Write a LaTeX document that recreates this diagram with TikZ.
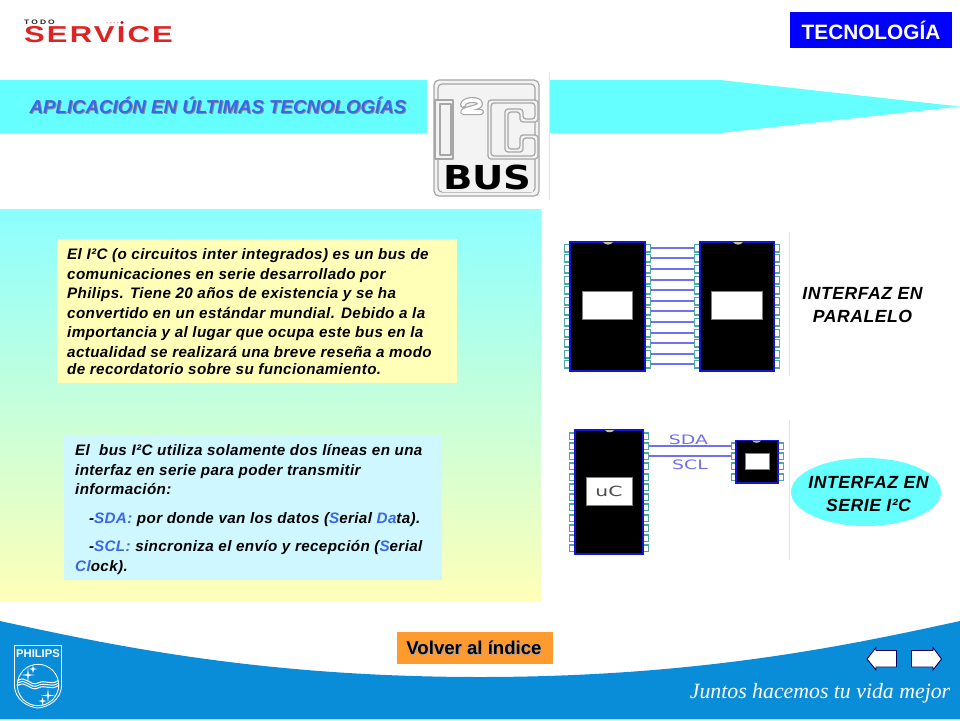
\documentclass[tikz,border=0pt]{standalone}
\usepackage{fontspec}
\setmainfont{Liberation Sans}
\newfontfamily\spacedsans[LetterSpace=2.5]{Liberation Sans}
\newfontfamily\labelsans[LetterSpace=3]{Liberation Sans}
\newfontfamily\servicesans[LetterSpace=7]{Liberation Sans}
\newfontfamily\todosans[LetterSpace=25]{Liberation Sans}
\newfontfamily\serifit{Liberation Serif}
\newfontfamily\widesans{DejaVu Sans}
\usetikzlibrary{shapes.geometric}
\definecolor{cyanband}{HTML}{66FFFF}
\definecolor{philblue}{HTML}{0A8DD8}
\definecolor{hiblue}{HTML}{3A66E8}
\definecolor{pinteal}{HTML}{4FA8A0}
\definecolor{wire}{HTML}{7070F0}
\definecolor{chipedge}{HTML}{1414D0}
\definecolor{logoline}{HTML}{A6A6A6}
\definecolor{logofill}{HTML}{F3F3F3}
\definecolor{svcred}{HTML}{DC2424}
\definecolor{paleyellow}{HTML}{FFFFB8}
\definecolor{paleblue}{HTML}{CFF7FF}
\definecolor{btnorange}{HTML}{FF9A2E}
\tikzset{
  body/.style={font=\spacedsans\bfseries\itshape\fontsize{15.2}{19.5}\selectfont,align=left,anchor=north west,inner sep=0pt,text=black},
  label/.style={font=\labelsans\bfseries\itshape\fontsize{17.6}{22.5}\selectfont,align=center,text=black,inner sep=0pt},
  chipbody/.style={fill=black,draw=chipedge,line width=1.2pt},
  chipwin/.style={fill=white,draw=gray,line width=.8pt},
  pinbox/.style={draw=pinteal,fill=white,line width=1.8pt},
  wireline/.style={draw=wire,line width=2pt},
  sep/.style={draw=black!10,line width=.6pt},
  navarrow/.style={fill=white,draw=black!40!blue!60!black,line width=.9pt,line join=miter},
  logoedge/.style={draw=logoline,line width=1.2pt,line join=round},
  siglabel/.style={font=\widesans\fontsize{13}{13}\selectfont,text=wire,inner sep=0pt,xscale=1.45},
  shield/.style={draw=white,line width=.9pt}
}
\newcommand{\hl}[1]{\textcolor{hiblue}{#1}}
\begin{document}
\begin{tikzpicture}[x=1pt,y=-1pt]
\useasboundingbox (0,0) rectangle (960,720);
\fill[white] (0,0) rectangle (960,720);

% Header logo
\node[inner sep=0pt,font=\todosans\bfseries\fontsize{6.5}{7}\selectfont,text=black!85,xscale=1.3] (todo) at (39.5,22) {TODO};
\node[inner sep=0pt,font=\servicesans\bfseries\fontsize{23}{24}\selectfont,text=svcred,xscale=1.35] (service) at (98.5,35) {SERVICE};
\foreach \x in {107,110.5,114,117.5} \fill[red!35] (\x,22.5) circle (.9);
\fill[red!80!black] (122,22.5) circle (1.6);

% Tecnologia box
\node[fill=blue,minimum width=162pt,minimum height=36pt,inner sep=0pt,text=white,font=\bfseries\fontsize{20.8}{22}\selectfont] (tec) at (871,30) {TECNOLOGÍA};

% Banners
\fill[cyanband] (0,80) rectangle (427,133);
\fill[cyanband] (550,80) -- (720,80) -- (960,106.5) -- (720,133) -- (550,133) -- cycle;
\node[font=\bfseries\itshape\fontsize{18.7}{20}\selectfont,text=black!45,inner sep=0pt] (titleshadow) at (219,106) {APLICACIÓN EN ÚLTIMAS TECNOLOGÍAS};
\node[font=\bfseries\itshape\fontsize{18.7}{20}\selectfont,text=hiblue,inner sep=0pt] (title) at (218,105) {APLICACIÓN EN ÚLTIMAS TECNOLOGÍAS};

% I2C logo
\draw[sep] (549.5,72) -- (549.5,200);
\draw[logoedge,fill=logofill,rounded corners=5pt] (434,80) rectangle (539,196);
\draw[logoedge,rounded corners=4pt] (438,84) rectangle (535,192);
\draw[logoedge,fill=logofill] (435,100) rectangle (453,159);
\draw[logoedge] (440,104) rectangle (451,155);
\draw[logoline,line width=6pt,line cap=round,line join=round] (463,105) .. controls (463,99) and (480,98) .. (480,104) .. controls (480,108) and (466,108) .. (463,112) -- (481,112);
\draw[white,line width=3.6pt,line cap=round,line join=round] (463,105) .. controls (463,99) and (480,98) .. (480,104) .. controls (480,108) and (466,108) .. (463,112) -- (481,112);
\draw[logoedge,fill=logofill,rounded corners=3pt] (538,100) -- (488,100) -- (488,159) -- (538,159) -- (538,135) -- (520,135) -- (520,149) -- (508,149) -- (508,112) -- (520,112) -- (520,122) -- (538,122) -- cycle;
\draw[logoedge,rounded corners=3pt] (535,103) -- (491,103) -- (491,156) -- (535,156) -- (535,138) -- (523,138) -- (523,152) -- (505,152) -- (505,109) -- (523,109) -- (523,119) -- (535,119) -- cycle;
\fill[logofill] (442,162) rectangle (533,192);
\node[inner sep=0pt,font=\widesans\bfseries\fontsize{33}{33}\selectfont,text=black,xscale=1.17] (bus) at (487.5,177) {BUS};

% Gradient panel
\shade[top color=cyanband!75!white,bottom color=paleyellow] (0,209) rectangle (541,601);
\fill[paleyellow] (57,239) rectangle (457,383);
\fill[paleblue] (64,436) rectangle (442,580);

\node[body] (para1) at (67,248.5) {El I²C (o circuitos inter integrados) es un bus de\\
comunicaciones en serie desarrollado por\\
Philips. Tiene 20 años de existencia y se ha\\
convertido en un estándar mundial. Debido a la\\
importancia y al lugar que ocupa este bus en la\\
actualidad se realizará una breve reseña a modo\\[-2pt]
de recordatorio sobre su funcionamiento.};
\node[body] (para2) at (75,444.5) {El\ \ bus I²C utiliza solamente dos líneas en una\\
interfaz en serie para poder transmitir\\
información:\\[9pt]
\ \ \ -\hl{SDA:} por donde van los datos (\hl{S}erial \hl{Da}ta).\\[9pt]
\ \ \ -\hl{SCL:} sincroniza el envío y recepción (\hl{S}erial\\
\hl{Cl}ock).};

% Parallel chips
\foreach \i in {0,...,11}{
  \pgfmathsetmacro{\yy}{round(247.7+\i*10.6)}
  \draw[wireline] (651,\yy) -- (694,\yy);
  \draw[pinbox] (564.5,\yy-3.6) rectangle (570,\yy+3.6);
  \draw[pinbox] (645,\yy-3.6) rectangle (650.5,\yy+3.6);
  \draw[pinbox] (694.5,\yy-3.6) rectangle (700,\yy+3.6);
  \draw[pinbox] (774,\yy-3.6) rectangle (779.5,\yy+3.6);
}
\draw[chipbody] (570,242) rectangle (645,371);
\draw[chipbody] (700,242) rectangle (774,371);
\fill[black!25] (603,242) .. controls (605,245.5) and (611,245.5) .. (613,242) -- cycle;
\fill[black!25] (733,242) .. controls (735,245.5) and (741,245.5) .. (743,242) -- cycle;
\draw[chipwin] (582,291) rectangle (632,319);
\draw[chipwin] (711.5,291) rectangle (762,319);
\draw[sep] (789.5,232) -- (789.5,376);
\node[label] (lblpar) at (862.5,305) {INTERFAZ EN\\PARALELO};

% Serial chips
\draw[wireline] (649,446) -- (731,446);
\draw[wireline] (649,456) -- (731,456);
\foreach \i in {0,...,11}{
  \pgfmathsetmacro{\yy}{round(435.5+\i*10.25)}
  \draw[pinbox] (569.5,\yy-3.4) rectangle (575,\yy+3.4);
  \draw[pinbox] (643,\yy-3.4) rectangle (648.5,\yy+3.4);
}
\foreach \i in {0,...,3}{
  \pgfmathsetmacro{\yy}{round(445.7+\i*10.4)}
  \draw[pinbox] (731.5,\yy-3.4) rectangle (736,\yy+3.4);
  \draw[pinbox] (778,\yy-3.4) rectangle (783.5,\yy+3.4);
}
\draw[chipbody] (575,430) rectangle (643,554);
\draw[chipbody] (736,440.5) rectangle (778,483);
\fill[black!25] (605,430) .. controls (606,433) and (613,433) .. (614,430) -- cycle;
\fill[black!25] (752,440.5) .. controls (753,443.5) and (760,443.5) .. (761,440.5) -- cycle;
\draw[chipwin] (586,477) rectangle (632,505);
\node[inner sep=0pt,font=\widesans\fontsize{14}{14}\selectfont,text=black!70,xscale=1.45] (uc) at (609,491) {uC};
\draw[chipwin] (745.5,453.5) rectangle (769,469.5);
\node[siglabel] (sda) at (688.5,440) {SDA};
\node[siglabel] (scl) at (690,464.5) {SCL};
\draw[sep] (789.5,420) -- (789.5,560);
\node[ellipse,fill=cyanband,minimum width=150pt,minimum height=68pt,inner sep=0pt] (serie) at (866,492) {};
\node[label] (lblser) at (868.5,494) {INTERFAZ EN\\SERIE I²C};

% Footer
\fill[philblue] (0,621) .. controls (110,645) and (260,677) .. (480,677) .. controls (700,677) and (850,645) .. (960,621) -- (960,720) -- (0,720) -- cycle;
\draw[cyan!35!white,line width=.8pt] (0,719) -- (960,719);

\node[fill=btnorange,minimum width=156pt,minimum height=32pt,inner sep=0pt] (volver) at (475,648) {};
\node[inner sep=0pt,font=\bfseries\fontsize{18.6}{20}\selectfont,text=black!35] (volvers) at (475,649) {Volver al índice};
\node[inner sep=0pt,font=\bfseries\fontsize{18.6}{20}\selectfont,text=black] (volvert) at (474,648) {Volver al índice};

% Philips shield
\draw[shield] (14.5,645.5) -- (61.5,645.5) -- (61.5,685) .. controls (61.5,700) and (48,707) .. (38,708) .. controls (28,707) and (14.5,700) .. (14.5,685) -- cycle;
\node[inner sep=0pt,font=\bfseries\fontsize{11.2}{12}\selectfont,text=white] (philips) at (38,654) {PHILIPS};
\draw[shield] (38,685) circle (20.7);
\foreach \d in {0,2.5,5}
  \draw[white,line width=1pt] (17.5,680.5+\d) .. controls (27,675+\d) and (30,687+\d) .. (38,683+\d) .. controls (46,679+\d) and (50,686+\d) .. (58.5,680.5+\d);
\foreach \cx/\cy/\r in {28/675/7,33/669/4,48/695.5/7,42.5/701/4}{
  \fill[white] (\cx-\r,\cy) -- (\cx-.8,\cy-.8) -- (\cx,\cy-\r) -- (\cx+.8,\cy-.8) -- (\cx+\r,\cy) -- (\cx+.8,\cy+.8) -- (\cx,\cy+\r) -- (\cx-.8,\cy+.8) -- cycle;
}

% Navigation arrows
\draw[navarrow] (896.5,650.5) -- (876,650.5) -- (876,647.5) -- (867,659) -- (876,670) -- (876,667) -- (896.5,667) -- cycle;
\draw[navarrow] (911.5,650.5) -- (933,650.5) -- (933,647.5) -- (941.5,659) -- (933,670) -- (933,667) -- (911.5,667) -- cycle;

\node[inner sep=0pt,font=\serifit\itshape\fontsize{21.8}{24}\selectfont,text=white] (motto) at (820,693) {Juntos hacemos tu vida mejor};
\end{tikzpicture}
\end{document}
